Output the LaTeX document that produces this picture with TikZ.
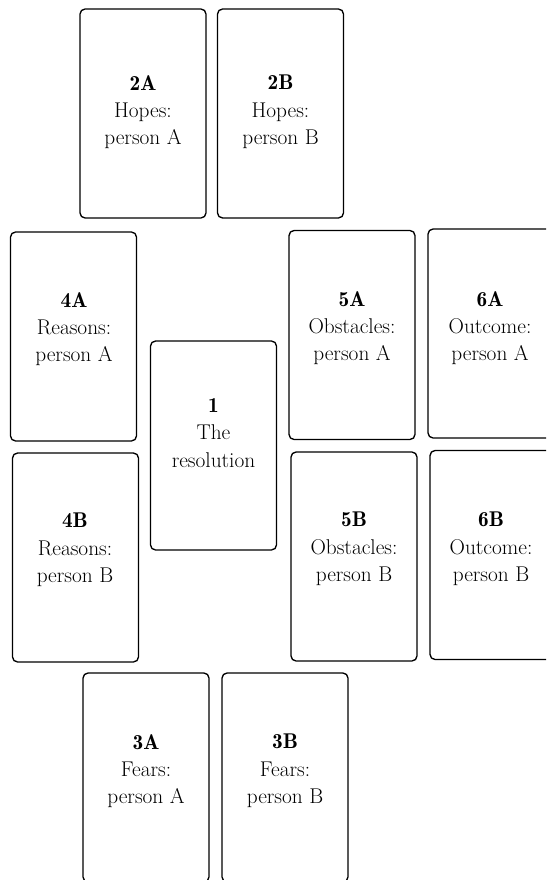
\documentclass[tikz,border=0pt]{standalone}
\usepackage{tikz}
\tikzset{
  card/.style={draw=black, line width=1pt, rounded corners=3.8pt,
    minimum width=94.5pt, minimum height=156.75pt, inner sep=0pt},
  cardtext/.style={align=center, inner sep=0pt,
    font=\fontsize{16}{20.5}\selectfont},
}
\newcommand{\cnum}[1]{{\fontseries{b}\selectfont #1}}
\begin{document}
\begin{tikzpicture}[x=0.75pt,y=-0.75pt]
\useasboundingbox (0,0) rectangle (546,880);
\clip (0,0) rectangle (546,880);
% cards
\node[card] (c2A) at (143,113.5) {};
\node[card] (c2B) at (280.5,113.5) {};
\node[card] (c4A) at (73.5,336.5) {};
\node[card] (c4B) at (75.5,557.5) {};
\node[card] (c1)  at (213.5,445.5) {};
\node[card] (c5A) at (352,335) {};
\node[card] (c5B) at (354,556.5) {};
\node[card] (c6A) at (491,333.5) {};
\node[card] (c6B) at (493,555) {};
\node[card] (c3A) at (146,777.5) {};
\node[card] (c3B) at (285,777.5) {};
% texts
\node[cardtext] (t2A) at (143,112) {\cnum{2A}\\Hopes:\\person A};
\node[cardtext] (t2B) at (280.5,112) {\cnum{2B}\\Hopes:\\person B};
\node[cardtext] (t4A) at (74,329) {\cnum{4A}\\Reasons:\\person A};
\node[cardtext] (t4B) at (75,550) {\cnum{4B}\\Reasons:\\person B};
\node[cardtext] (t1)  at (213.5,433) {\cnum{1}\\The\\resolution};
\node[cardtext] (t5A) at (352,328) {\cnum{5A}\\Obstacles:\\person A};
\node[cardtext] (t5B) at (354,549) {\cnum{5B}\\Obstacles:\\person B};
\node[cardtext] (t6A) at (490,328) {\cnum{6A}\\Outcome:\\person A};
\node[cardtext] (t6B) at (491,549) {\cnum{6B}\\Outcome:\\person B};
\node[cardtext] (t3A) at (146,771) {\cnum{3A}\\Fears:\\person A};
\node[cardtext] (t3B) at (285,771) {\cnum{3B}\\Fears:\\person B};
\end{tikzpicture}
\end{document}
